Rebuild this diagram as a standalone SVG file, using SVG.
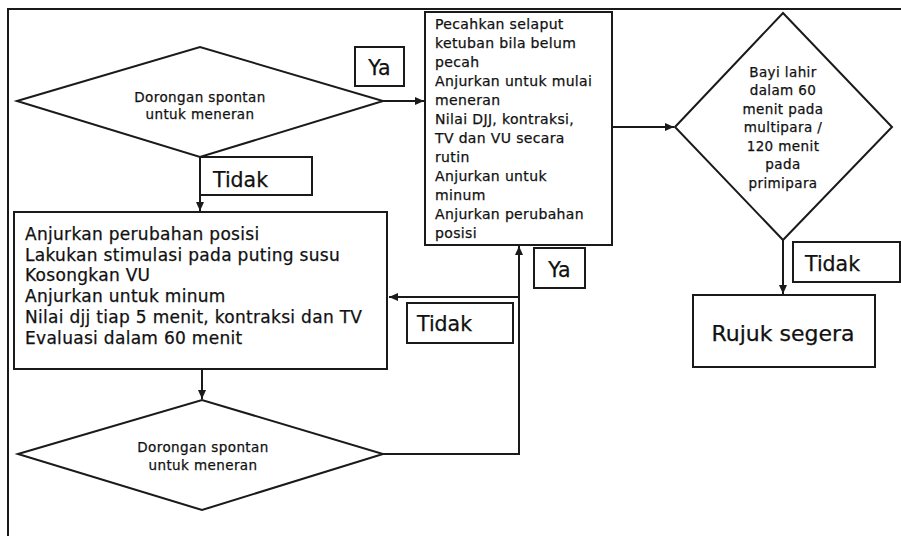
<svg xmlns="http://www.w3.org/2000/svg" width="901" height="536" viewBox="0 0 901 536">
<style>
.shape{fill:#fff;stroke:#1a1a1a;stroke-width:2}
.line{fill:none;stroke:#1a1a1a;stroke-width:2}
.t{font-family:"DejaVu Sans","Liberation Sans",sans-serif;fill:#111;stroke:#111;stroke-width:0.25}
.s{font-size:13.5px;letter-spacing:0.4px}
.r{font-size:14px;letter-spacing:0.35px}
.m{font-size:17px;letter-spacing:0.3px}
.lab{font-size:20.5px}
.big{font-size:22px}
</style>
<defs>
<marker id="arr" markerWidth="10" markerHeight="10" refX="9" refY="5" orient="auto" markerUnits="userSpaceOnUse">
<path d="M0,1 L9,5 L0,9 Z" fill="#1a1a1a"/>
</marker>
</defs>
<rect width="901" height="536" fill="#fff"/>
<g id="frame">
<path class="line" d="M8,536 L8,9 L901,9"/>
</g>
<g id="connectors">
<path class="line" d="M383,101 L424,101" marker-end="url(#arr)"/>
<path class="line" d="M200,157 L200,211" marker-end="url(#arr)"/>
<path class="line" d="M612,127 L674,127" marker-end="url(#arr)"/>
<path class="line" d="M783,240 L783,294" marker-end="url(#arr)"/>
<path class="line" d="M202,369 L202,399" marker-end="url(#arr)"/>
<path class="line" d="M383,454 L519,454 L519,246" marker-end="url(#arr)"/>
<path class="line" d="M519,297 L389,297" marker-end="url(#arr)"/>
</g>
<g id="decision1">
<polygon class="shape" points="17,101 200,47 383,101 200,157"/>
<text class="t s" x="200" y="102" text-anchor="middle">Dorongan spontan</text>
<text class="t s" x="200" y="119" text-anchor="middle">untuk meneran</text>
</g>
<g id="label-ya1">
<rect class="shape" x="355" y="47" width="49" height="39"/>
<text class="t lab" x="379.5" y="75" text-anchor="middle">Ya</text>
</g>
<g id="label-tidak1">
<rect class="shape" x="200" y="157" width="112" height="38"/>
<text class="t lab" x="213" y="187">Tidak</text>
</g>
<g id="actions-left">
<rect class="shape" x="14" y="212" width="373" height="157"/>
<text class="t m" x="25" y="240">Anjurkan perubahan posisi</text>
<text class="t m" x="25" y="261">Lakukan stimulasi pada puting susu</text>
<text class="t m" x="25" y="281">Kosongkan VU</text>
<text class="t m" x="25" y="302">Anjurkan untuk minum</text>
<text class="t m" x="25" y="323">Nilai djj tiap 5 menit, kontraksi dan TV</text>
<text class="t m" x="25" y="344">Evaluasi dalam 60 menit</text>
</g>
<g id="decision2">
<polygon class="shape" points="18,454 202,400 383,454 202,510"/>
<text class="t s" x="203" y="452" text-anchor="middle">Dorongan spontan</text>
<text class="t s" x="203" y="470" text-anchor="middle">untuk meneran</text>
</g>
<g id="label-tidak2">
<rect class="shape" x="407" y="303" width="106" height="40"/>
<text class="t lab" x="417" y="331">Tidak</text>
</g>
<g id="label-ya2">
<rect class="shape" x="534" y="248" width="51" height="40"/>
<text class="t lab" x="559.5" y="277" text-anchor="middle">Ya</text>
</g>
<g id="actions-right">
<rect class="shape" x="425" y="12" width="187" height="233"/>
<text class="t r" x="435" y="29">Pecahkan selaput</text>
<text class="t r" x="435" y="48">ketuban bila belum</text>
<text class="t r" x="435" y="67">pecah</text>
<text class="t r" x="435" y="86">Anjurkan untuk mulai</text>
<text class="t r" x="435" y="105">meneran</text>
<text class="t r" x="435" y="124">Nilai DJJ, kontraksi,</text>
<text class="t r" x="435" y="143">TV dan VU secara</text>
<text class="t r" x="435" y="162">rutin</text>
<text class="t r" x="435" y="181">Anjurkan untuk</text>
<text class="t r" x="435" y="200">minum</text>
<text class="t r" x="435" y="219">Anjurkan perubahan</text>
<text class="t r" x="435" y="238">posisi</text>
</g>
<g id="decision3">
<polygon class="shape" points="675,127 783,13 892,127 783,240"/>
<text class="t s" x="783" y="77" text-anchor="middle">Bayi lahir</text>
<text class="t s" x="783" y="95" text-anchor="middle">dalam 60</text>
<text class="t s" x="783" y="114" text-anchor="middle">menit pada</text>
<text class="t s" x="783" y="132" text-anchor="middle">multipara /</text>
<text class="t s" x="783" y="151" text-anchor="middle">120 menit</text>
<text class="t s" x="783" y="169" text-anchor="middle">pada</text>
<text class="t s" x="783" y="188" text-anchor="middle">primipara</text>
</g>
<g id="label-tidak3">
<rect class="shape" x="793" y="242" width="107" height="40"/>
<text class="t lab" x="805" y="271">Tidak</text>
</g>
<g id="refer">
<rect class="shape" x="693" y="295" width="182" height="72"/>
<text class="t big" x="783" y="341" text-anchor="middle">Rujuk segera</text>
</g>
</svg>
